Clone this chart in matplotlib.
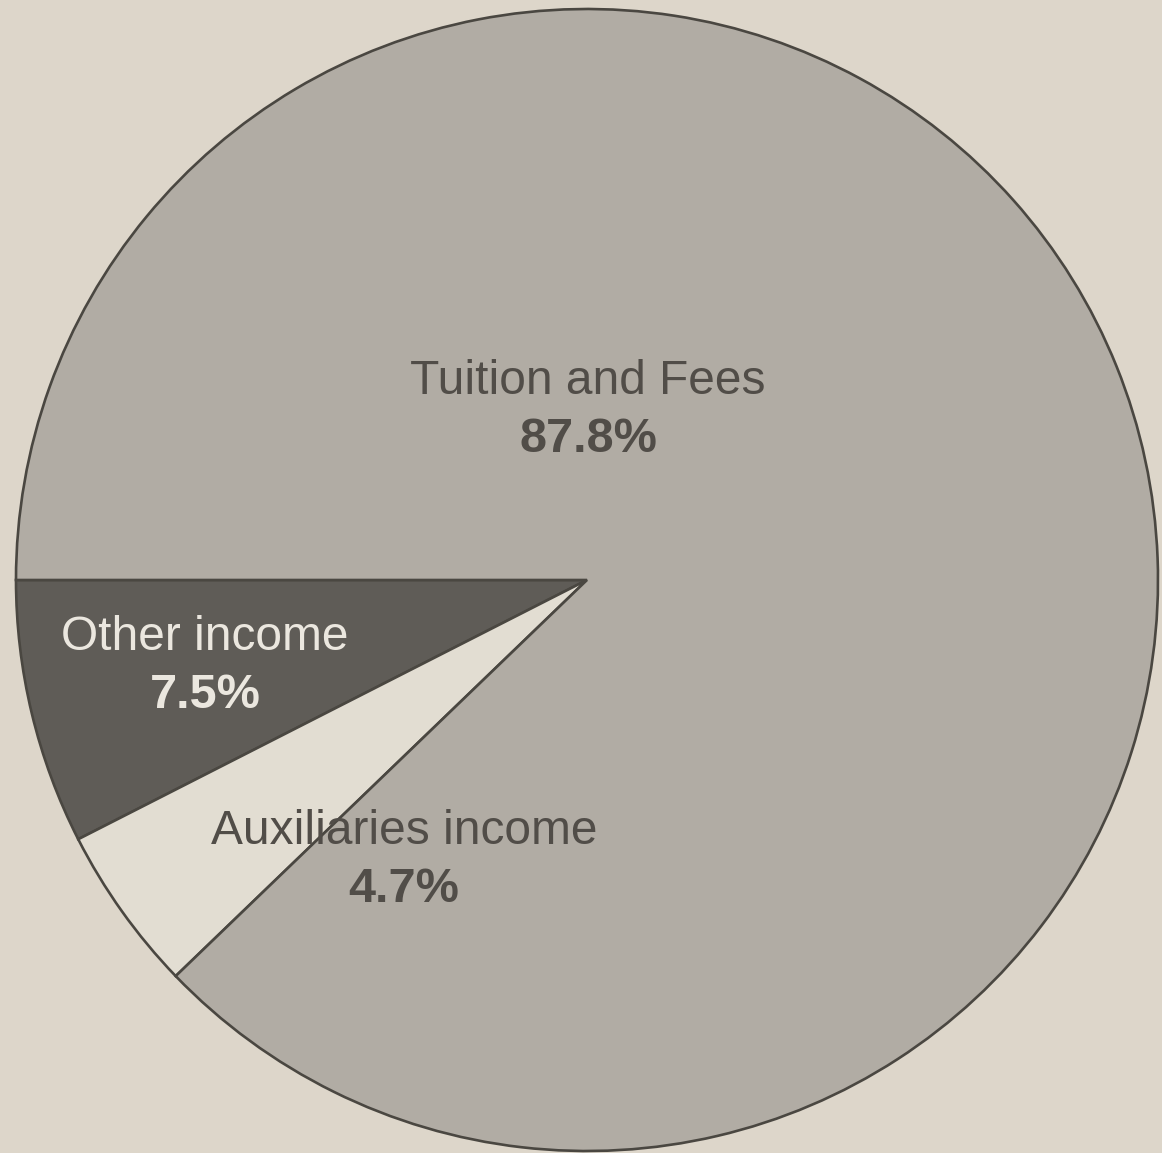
import matplotlib.pyplot as plt

# slices, in drawing order (counter-clockwise from 9 o'clock)
labels = ['Other income', 'Auxiliaries income', 'Tuition and Fees']
shares = [7.5, 4.7, 87.8]
colors = ['#5f5c57', '#e2ddd2', '#b1aca4']
text_colors = ['#ebe7df', '#514d48', '#514d48']

# where the labels sit, in image pixels (x, y of the name line)
label_px = [(205, 637), (404, 832), (588, 382)]

W, H = 1162, 1153
cx, cy, r = 587, 580, 571  # pie centre / radius in pixels

fig = plt.figure(figsize=(W / 100, H / 100), dpi=100)
fig.patch.set_facecolor('#ddd6ca')
ax = fig.add_axes([0, 0, 1, 1])
ax.set_facecolor('#ddd6ca')

ax.pie(shares, colors=colors, startangle=180, counterclock=True,
       wedgeprops=dict(edgecolor='#4a4741', linewidth=1.9))

ax.set_xlim(-cx / r, (W - cx) / r)
ax.set_ylim(-(H - cy) / r, cy / r)
ax.set_aspect('equal')
ax.axis('off')

for name, val, tc, (px, py) in zip(labels, shares, text_colors, label_px):
    x = (px - cx) / r
    y = (cy - py) / r
    ax.text(x, y, name, ha='center', va='center', color=tc,
            fontsize=34.5, family='Liberation Sans')
    ax.text(x, y - 58 / r, f'{val}%', ha='center', va='center', color=tc,
            fontsize=35, fontweight='bold', family='Liberation Sans')

fig.savefig('out.png', dpi=100, facecolor=fig.get_facecolor())
